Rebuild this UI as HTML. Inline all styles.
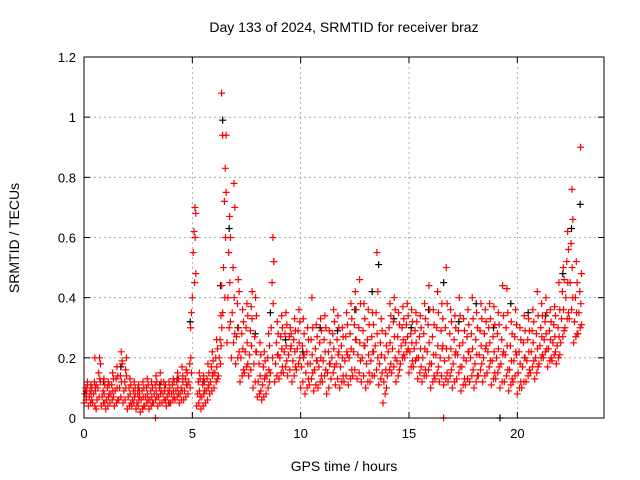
<!DOCTYPE html>
<html><head><meta charset="utf-8"><style>
body{margin:0;background:#fff;}
svg{display:block;font-family:"Liberation Sans",sans-serif;}
</style></head><body>
<svg id="chart" width="640" height="480">
<rect x="0" y="0" width="640" height="480" fill="#fff"/>
<g id="grid"></g>
<g id="marks"></g>
<rect x="84" y="57" width="520" height="361" fill="none" stroke="#000" stroke-width="1"/>
<g id="axes"></g>
<text x="344" y="32" text-anchor="middle" font-size="14">Day 133 of 2024, SRMTID for receiver braz</text>
<text x="344" y="471" text-anchor="middle" font-size="14">GPS time / hours</text>
<text transform="translate(19,238) rotate(-90)" text-anchor="middle" font-size="14">SRMTID / TECUs</text>
</svg>
<script>
const xTicks=[0,5,10,15,20];
const yTicks=[0,0.2,0.4,0.6,0.8,1,1.2];
const yTickLabels=["0","0.2","0.4","0.6","0.8","1","1.2"];
const redTimes=[0,0.2,0.4,0.6,0.8,1,1.2,1.4,1.6,1.8,2,2.2,2.4,2.6,2.8,3,3.2,3.4,3.6,3.8,4,4.2,4.4,4.6,4.8,5,5.2,5.4,5.6,5.8,6,6.2,6.4,6.6,6.8,7,7.2,7.4,7.6,7.8,8,8.2,8.4,8.6,8.8,9,9.2,9.4,9.6,9.8,10,10.2,10.4,10.6,10.8,11,11.2,11.4,11.6,11.8,12,12.2,12.4,12.6,12.8,13,13.2,13.4,13.6,13.8,14,14.2,14.4,14.6,14.8,15,15.2,15.4,15.6,15.8,16,16.2,16.4,16.6,16.8,17,17.2,17.4,17.6,17.8,18,18.2,18.4,18.6,18.8,19,19.2,19.4,19.6,19.8,20,20.2,20.4,20.6,20.8,21,21.2,21.4,21.6,21.8,22,22.2,22.4,22.6,22.8];
const redValues=[
[.05,.08,.10,.07,.12],[.04,.07,.09,.11,.06],[.05,.08,.12,.10,.03],[.06,.10,.15,.20,.12],[.04,.07,.09,.13,.05],
[.03,.06,.10,.12,.08],[.05,.08,.11,.15,.07],[.04,.09,.13,.17,.06],[.06,.10,.14,.22,.18],[.05,.09,.12,.16,.20],
[.03,.07,.10,.13,.05],[.04,.06,.09,.12,.08],[.03,.05,.08,.11,.07],[.02,.06,.09,.12,.04],[.04,.07,.10,.13,.06],
[.03,.06,.09,.12,.05],[.05,.08,.11,.14,.07],[.04,.07,.10,.15,.09],[.05,.08,.12,.10,.06],[.04,.07,.09,.12,.05],
[.05,.08,.11,.13,.07],[.06,.09,.12,.15,.08],[.05,.08,.10,.17,.12],[.06,.09,.13,.16,.11],[.08,.12,.18,.30,.15],
[.40,.55,.62,.70,.48],[.04,.08,.12,.15,.07],[.03,.07,.11,.14,.09],[.05,.09,.13,.18,.11],[.08,.12,.17,.22,.15],
[.10,.15,.20,.26,.13],[.14,.20,.26,.34,.44],[.35,.50,.72,.83,.94],[.25,.40,.55,.67,.32],[.20,.35,.50,.78,.28],
[.18,.27,.38,.46,.22],[.12,.20,.28,.36,.16],[.15,.22,.30,.38,.18],[.14,.21,.29,.37,.42],[.10,.18,.27,.40,.22],
[.07,.12,.18,.25,.09],[.06,.11,.17,.22,.14],[.08,.14,.20,.28,.12],[.15,.30,.45,.60,.52],[.12,.18,.25,.32,.21],
[.13,.20,.27,.34,.17],[.15,.22,.28,.35,.19],[.14,.21,.27,.30,.24],[.12,.19,.26,.33,.17],[.16,.23,.29,.36,.20],
[.10,.17,.24,.33,.21],[.08,.15,.22,.30,.13],[.11,.18,.26,.40,.15],[.09,.16,.23,.31,.19],[.10,.17,.25,.33,.14],
[.12,.19,.26,.34,.16],[.08,.15,.22,.29,.18],[.13,.20,.28,.36,.17],[.11,.18,.26,.34,.22],[.10,.17,.24,.30,.14],
[.12,.19,.27,.35,.21],[.11,.20,.28,.38,.16],[.14,.22,.31,.42,.26],[.13,.21,.30,.46,.19],[.12,.20,.29,.38,.24],
[.10,.18,.26,.36,.15],[.12,.19,.27,.35,.22],[.14,.24,.35,.55,.20],[.11,.18,.25,.33,.15],[.05,.12,.20,.28,.10],
[.14,.22,.30,.38,.18],[.15,.23,.32,.40,.20],[.12,.19,.27,.35,.16],[.18,.24,.30,.37,.21],[.20,.25,.31,.38,.23],
[.15,.22,.28,.36,.19],[.17,.23,.29,.35,.20],[.13,.20,.27,.34,.17],[.12,.20,.28,.38,.16],[.14,.22,.31,.44,.18],
[.10,.18,.27,.36,.14],[.13,.21,.30,.42,.17],[.12,.20,.29,.38,.24],[.11,.19,.30,.50,.15],[.12,.20,.28,.36,.16],
[.10,.18,.26,.34,.22],[.13,.21,.29,.40,.17],[.09,.17,.25,.33,.13],[.11,.19,.27,.36,.22],[.12,.20,.28,.40,.16],
[.10,.18,.26,.35,.14],[.14,.21,.29,.38,.18],[.12,.20,.28,.36,.24],[.15,.22,.30,.38,.19],[.11,.19,.27,.37,.15],
[.13,.20,.28,.35,.17],[.10,.18,.26,.44,.22],[.12,.21,.30,.43,.16],[.09,.16,.24,.32,.13],[.12,.19,.27,.36,.21],
[.08,.15,.22,.30,.12],[.10,.17,.25,.34,.20],[.12,.19,.26,.33,.16],[.15,.22,.29,.36,.19],[.13,.20,.28,.42,.17],
[.18,.24,.30,.38,.21],[.20,.26,.32,.40,.23],[.17,.23,.29,.36,.20],[.19,.25,.31,.37,.22],[.18,.24,.30,.45,.21],
[.25,.33,.42,.50,.29],[.30,.40,.52,.62,.35],[.33,.45,.58,.76,.40],[.25,.32,.40,.52,.28],[.28,.35,.42,.90,.31]];
const redValuesB=[
[.06,.09,.11],[.05,.08,.10],[.04,.09,.11],[.07,.13,.18],[.05,.08,.11],
[.04,.07,.11],[.06,.09,.13],[.05,.10,.14],[.07,.12,.19],[.06,.10,.14],
[.04,.08,.11],[.05,.07,.10],[.04,.06,.09],[.03,.07,.10],[.05,.08,.11],
[.04,.07,.10],[.06,.09,.12],[.05,.08,.12],[.06,.09,.11],[.05,.08,.10],
[.06,.09,.12],[.07,.10,.13],[.06,.09,.14],[.07,.11,.15],[.10,.20,.35],
[.45,.60,.68],[.05,.09,.13],[.04,.08,.12],[.06,.10,.15],[.09,.14,.19],
[.12,.17,.23],[.18,.24,.30],[.40,.60,.75],[.30,.45,.60],[.25,.40,.70],
[.20,.30,.42],[.14,.23,.32],[.17,.25,.34],[.16,.24,.33],[.12,.22,.34],
[.08,.14,.21],[.07,.13,.19],[.10,.16,.24],[.20,.38,.52],[.14,.21,.28],
[.15,.23,.30],[.17,.24,.31],[.16,.23,.28],[.14,.22,.29],[.18,.25,.32],
[.12,.20,.28],[.10,.18,.26],[.13,.21,.30],[.11,.19,.27],[.12,.20,.29],
[.14,.22,.30],[.10,.18,.25],[.15,.23,.32],[.13,.21,.30],[.12,.20,.27],
[.14,.22,.31],[.13,.23,.33],[.16,.26,.36],[.15,.25,.38],[.14,.24,.33],
[.12,.21,.31],[.14,.22,.31],[.16,.28,.42],[.13,.21,.29],[.08,.16,.24],
[.16,.25,.34],[.17,.27,.36],[.14,.22,.31],[.20,.26,.33],[.22,.27,.34],
[.17,.25,.32],[.19,.25,.32],[.15,.23,.30],[.14,.23,.33],[.16,.25,.36],
[.12,.21,.31],[.15,.24,.35],[.14,.23,.33],[.13,.23,.38],[.14,.23,.32],
[.12,.21,.30],[.15,.24,.34],[.11,.20,.29],[.13,.22,.31],[.14,.23,.33],
[.12,.21,.30],[.16,.24,.33],[.14,.23,.32],[.17,.25,.33],[.13,.22,.31],
[.15,.23,.31],[.12,.21,.34],[.14,.24,.35],[.11,.19,.28],[.14,.22,.31],
[.10,.18,.26],[.12,.20,.29],[.14,.22,.29],[.17,.25,.32],[.15,.23,.34],
[.20,.27,.34],[.22,.28,.35],[.19,.26,.32],[.21,.27,.34],[.20,.27,.36],
[.27,.36,.46],[.33,.45,.56],[.36,.50,.66],[.27,.35,.45],[.30,.38,.48]];
const redExtraTimes=[3.3,16.6,6.35,6.4,0.5];
const redExtraValues=[0,0,1.08,0.94,0.2];
const blackTimes=[0.1,0.9,1.7,2.5,3.5,4.3,4.9,5.5,6.3,6.4,6.7,7.1,7.9,8.6,9.3,10.1,10.9,11.7,12.5,13.3,13.6,14.3,15.1,15.9,16.6,17.3,18.1,18.9,19.2,19.7,20.5,21.3,22.1,22.5,22.9];
const blackValues=[0.09,0.12,0.17,0.10,0.11,0.13,0.32,0.12,0.44,0.99,0.63,0.30,0.28,0.35,0.26,0.22,0.30,0.29,0.36,0.42,0.51,0.33,0.30,0.36,0.45,0.32,0.38,0.30,0.0,0.38,0.35,0.34,0.48,0.63,0.71];

const X0=84,X1=604,Y0=418,Y1=57;
function sx(t){return X0+(t/24)*(X1-X0);}
function sy(v){return Y0-(v/1.2)*(Y0-Y1);}
const NS="http://www.w3.org/2000/svg";
const grid=document.getElementById('grid'),axes=document.getElementById('axes'),marks=document.getElementById('marks');
function mk(tag,attrs,parent){const e=document.createElementNS(NS,tag);for(const k in attrs)e.setAttribute(k,attrs[k]);parent.appendChild(e);return e;}
xTicks.forEach(t=>{
  const x=sx(t);
  if(t>0){const g=mk('line',{x1:x,x2:x,y1:Y1,y2:Y0,stroke:'#999','stroke-width':0.8,'stroke-dasharray':'2,3'},grid);
  
  }
  mk('line',{x1:x,x2:x,y1:Y0,y2:Y0-6,stroke:'#000'},axes);
  mk('line',{x1:x,x2:x,y1:Y1,y2:Y1+6,stroke:'#000'},axes);
  const l=mk('text',{x:x,y:Y0+20,'text-anchor':'middle','font-size':13},axes);l.textContent=t;
  
  
});
yTicks.forEach((v,i)=>{
  const y=sy(v);
  if(v>0&&v<1.2){const g=mk('line',{x1:X0,x2:X1,y1:y,y2:y,stroke:'#999','stroke-width':0.8,'stroke-dasharray':'2,3'},grid);
  
  }
  mk('line',{x1:X0,x2:X0+6,y1:y,y2:y,stroke:'#000'},axes);
  mk('line',{x1:X1,x2:X1-6,y1:y,y2:y,stroke:'#000'},axes);
  const l=mk('text',{x:X0-8,y:y+5,'text-anchor':'end','font-size':13},axes);l.textContent=yTickLabels[i];
  
  
});
function plus(t,v,color,name){
  const x=sx(t),y=sy(v);
  const p=mk('path',{d:`M${x-3.5},${y}h7M${x},${y-3.5}v7`,stroke:color,'stroke-width':1.2,fill:'none'},marks);
  
  
}
blackTimes.forEach((t,i)=>plus(t,blackValues[i],'#000','black-point'));
redTimes.forEach((t,i)=>redValues[i].forEach((v,j)=>plus(t+j*0.04,v,'#f00','red-point')));
redTimes.forEach((t,i)=>redValuesB[i].forEach((v,j)=>plus(t+0.1+j*0.03,v,'#f00','red-point')));
redExtraTimes.forEach((t,i)=>plus(t,redExtraValues[i],'#f00','red-point'));
</script>
</body></html>
